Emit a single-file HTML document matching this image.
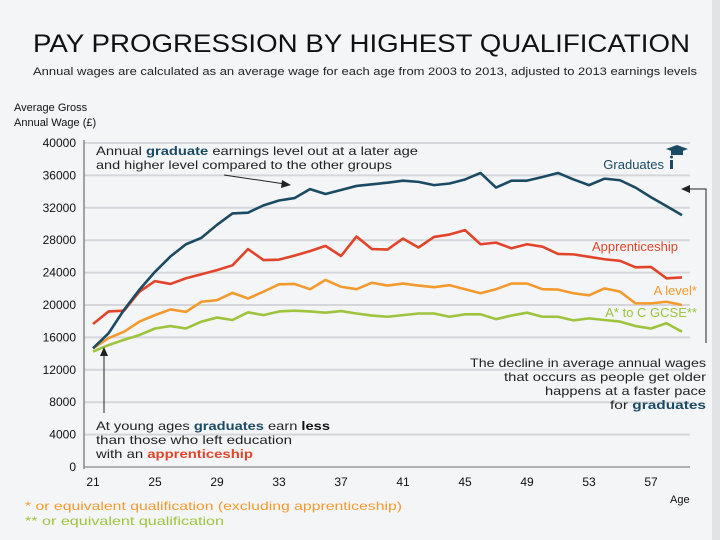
<!DOCTYPE html>
<html><head><meta charset="utf-8"><style>
html,body{margin:0;padding:0;background:#f4f5f7}
svg{display:block;font-family:"Liberation Sans","DejaVu Sans",sans-serif}
</style></head><body>
<svg id="chart" width="720" height="540" viewBox="0 0 720 540" xmlns="http://www.w3.org/2000/svg">
<rect x="0" y="0" width="720" height="540" fill="#f4f5f7"/>
<rect x="712" y="0" width="8" height="540" fill="#e2e3e6"/>
<text x="33" y="52" font-size="25" fill="#111" textLength="657" lengthAdjust="spacingAndGlyphs">PAY PROGRESSION BY HIGHEST QUALIFICATION</text>
<text x="33" y="75" font-size="11" fill="#222" textLength="664" lengthAdjust="spacingAndGlyphs">Annual wages are calculated as an average wage for each age from 2003 to 2013, adjusted to 2013 earnings levels</text>
<text x="14" y="111" font-size="11" fill="#111">Average Gross</text>
<text x="14" y="126" font-size="11" fill="#111">Annual Wage (£)</text>
<g id="grid"></g>
<g id="yticks"></g>
<g id="xticks"></g>
<line x1="84" y1="140" x2="84" y2="469" stroke="#888" stroke-width="1.5"/>
<g id="series"></g>
<text x="670" y="503" font-size="11" fill="#111">Age</text>
<!-- annotations -->
<text x="96" y="155" font-size="12" fill="#222" textLength="322" lengthAdjust="spacingAndGlyphs">Annual <tspan font-weight="bold" fill="#1b4a63">graduate</tspan> earnings level out at a later age</text>
<text x="96" y="169" font-size="12" fill="#222" textLength="296" lengthAdjust="spacingAndGlyphs">and higher level compared to the other groups</text>
<line x1="224" y1="175" x2="285" y2="184" stroke="#222" stroke-width="1"/>
<polygon points="291,185 282,180 281,188" fill="#222"/>
<line x1="104" y1="413" x2="104" y2="354" stroke="#222" stroke-width="1"/>
<polygon points="104,347 100,356 108,356" fill="#222"/>
<text x="96" y="430" font-size="12" fill="#222" textLength="234" lengthAdjust="spacingAndGlyphs">At young ages <tspan font-weight="bold" fill="#1b4a63">graduates</tspan> earn <tspan font-weight="bold" fill="#111">less</tspan></text>
<text x="96" y="444" font-size="12" fill="#222" textLength="196" lengthAdjust="spacingAndGlyphs">than those who left education</text>
<text x="96" y="458" font-size="12" fill="#222" textLength="157" lengthAdjust="spacingAndGlyphs">with an <tspan font-weight="bold" fill="#e0452b">apprenticeship</tspan></text>
<polyline points="706,343 706,189 687,189" fill="none" stroke="#222" stroke-width="1"/>
<polygon points="681,189 690,185 690,193" fill="#222"/>
<text x="706" y="367" font-size="12" fill="#222" text-anchor="end" textLength="236" lengthAdjust="spacingAndGlyphs">The decline in average annual wages</text>
<text x="706" y="381" font-size="12" fill="#222" text-anchor="end" textLength="202" lengthAdjust="spacingAndGlyphs">that occurs as people get older</text>
<text x="706" y="395" font-size="12" fill="#222" text-anchor="end" textLength="161" lengthAdjust="spacingAndGlyphs">happens at a faster pace</text>
<text x="706" y="409" font-size="12" fill="#222" text-anchor="end" textLength="96" lengthAdjust="spacingAndGlyphs">for <tspan font-weight="bold" fill="#1b4a63">graduates</tspan></text>
<!-- series labels -->
<text x="664" y="169" font-size="13" fill="#1b4a63" text-anchor="end">Graduates</text>
<g>
<polygon points="666,149 677,145 688,149 677,153" fill="#1b4a63"/>
<rect x="671" y="150" width="12" height="5" fill="#1b4a63"/>
<rect x="670" y="160" width="3" height="9" fill="#1b4a63"/>
<circle cx="671.5" cy="157" r="1.5" fill="#1b4a63"/>
</g>
<text x="678" y="251" font-size="13" fill="#e0452b" text-anchor="end">Apprenticeship</text>
<text x="697" y="295" font-size="13" fill="#f39a2e" text-anchor="end">A level*</text>
<text x="697" y="317" font-size="13" fill="#9dc43c" text-anchor="end">A* to C GCSE**</text>
<!-- footnotes -->
<text x="25" y="510" font-size="12" fill="#f39a2e" textLength="377" lengthAdjust="spacingAndGlyphs">* or equivalent qualification (excluding apprenticeship)</text>
<text x="25" y="525" font-size="12" fill="#9dc43c" textLength="199" lengthAdjust="spacingAndGlyphs">** or equivalent qualification</text>
</svg>
<script>
const ages = [21,22,23,24,25,26,27,28,29,30,31,32,33,34,35,36,37,38,39,40,41,42,43,44,45,46,47,48,49,50,51,52,53,54,55,56,57,58,59];
const graduates = [14650,16500,19400,21900,24100,26000,27500,28300,29900,31300,31400,32300,32900,33200,34300,33700,34200,34700,34900,35100,35350,35200,34800,35000,35500,36300,34500,35350,35350,35800,36300,35500,34800,35600,35400,34500,33300,32200,31100];
const apprenticeship = [17650,19200,19300,21650,22950,22600,23300,23800,24300,24900,26900,25550,25600,26100,26650,27300,26050,28450,26900,26850,28200,27100,28400,28700,29250,27500,27700,27000,27500,27200,26300,26250,25950,25650,25450,24650,24700,23300,23400];
const aLevel = [14650,15900,16700,17950,18750,19450,19150,20400,20600,21500,20800,21650,22550,22600,21950,23100,22250,21950,22750,22400,22650,22400,22200,22450,21950,21450,21950,22650,22650,21950,21900,21450,21200,22050,21650,20200,20200,20400,20000];
const gcse = [14250,15050,15700,16300,17100,17400,17100,17950,18450,18150,19100,18750,19200,19300,19200,19050,19250,18950,18700,18550,18750,18950,18950,18550,18850,18850,18250,18700,19050,18550,18550,18100,18350,18150,17950,17400,17100,17750,16700];
const yTicks = [0,4000,8000,12000,16000,20000,24000,28000,32000,36000,40000];
const xTicks = [21,25,29,33,37,41,45,49,53,57];

const NS = 'http://www.w3.org/2000/svg';
const X0 = 93, PX_PER_YEAR = 15.5;
const Y0 = 467, Y_TOP = 143, Y_MAX = 40000;
function xScale(a){ return X0 + (a - 21) * PX_PER_YEAR; }
function yScale(v){ return Y0 - v / Y_MAX * (Y0 - Y_TOP); }

const grid = document.getElementById('grid');
const yt = document.getElementById('yticks');
yTicks.forEach(v => {
  const l = document.createElementNS(NS,'line');
  l.setAttribute('x1', 84); l.setAttribute('x2', 690);
  l.setAttribute('y1', yScale(v)); l.setAttribute('y2', yScale(v));
  l.setAttribute('stroke', v === 0 ? '#999' : '#d4d6da');
  l.setAttribute('stroke-width', v === 0 ? 1.5 : 2);
  
  
  grid.appendChild(l);
  const t = document.createElementNS(NS,'text');
  t.setAttribute('x', 76); t.setAttribute('y', yScale(v) + 4);
  t.setAttribute('text-anchor', 'end'); t.setAttribute('font-size', '12');
  t.setAttribute('fill', '#111');
  t.textContent = v;
  
  
  yt.appendChild(t);
});
const xt = document.getElementById('xticks');
xTicks.forEach(a => {
  const t = document.createElementNS(NS,'text');
  t.setAttribute('x', xScale(a)); t.setAttribute('y', 486);
  t.setAttribute('text-anchor', 'middle'); t.setAttribute('font-size', '12');
  t.setAttribute('fill', '#111');
  t.textContent = a;
  
  
  xt.appendChild(t);
});
const seriesG = document.getElementById('series');
function drawLine(vals, color, name){
  const p = document.createElementNS(NS,'polyline');
  p.setAttribute('points', vals.map((v,i) => xScale(ages[i]) + ',' + yScale(v)).join(' '));
  p.setAttribute('fill', 'none'); p.setAttribute('stroke', color);
  p.setAttribute('stroke-width', '2.6'); p.setAttribute('stroke-linejoin', 'round');
  
  
  seriesG.appendChild(p);
}
drawLine(gcse, '#9dc43c', 'line-gcse');
drawLine(aLevel, '#f39a2e', 'line-a-level');
drawLine(apprenticeship, '#e0452b', 'line-apprenticeship');
drawLine(graduates, '#1b4a63', 'line-graduates');
</script>
</body></html>
